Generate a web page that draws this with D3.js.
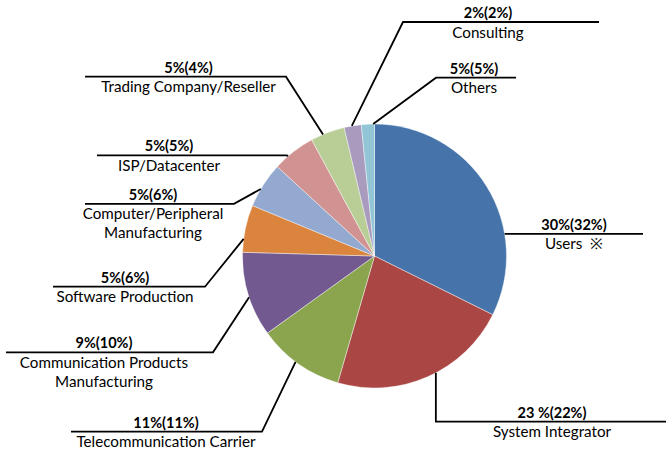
<!DOCTYPE html>
<html>
<head>
<meta charset="utf-8">
<script src="https://cdn.jsdelivr.net/npm/d3@7"></script>
<style>
  body { margin: 0; background: #fff; }
  svg { display: block; }
  text { font-family: Lato, "Open Sans", sans-serif; fill: #000; }
</style>
</head>
<body>
<script>
// slices, clockwise from 12 o'clock
const categories = ["Users  ※", "System Integrator", "Telecommunication Carrier",
  "Communication Products|Manufacturing", "Software Production",
  "Computer/Peripheral|Manufacturing", "ISP/Datacenter",
  "Trading Company/Reseller", "Consulting", "Others"];
const shares = [32.4, 22.2, 10.6, 10.4, 5.8, 5.6, 5.3, 4.2, 2.1, 1.6];
// printed percentage labels
const pctLabels = ["30%(32%)", "23 %(22%)", "11%(11%)", "9%(10%)", "5%(6%)",
  "5%(6%)", "5%(5%)", "5%(4%)", "2%(2%)", "5%(5%)"];
const colors = ["#4674aa", "#aa4644", "#8ba54f", "#72598f", "#db843d",
  "#93a9d0", "#d19392", "#b9ce97", "#a99bbd", "#92c5d5"];

const width = 669, height = 450;
const cx = 374.5, cy = 256, r = 132;

// leader layout: where on the slice the line starts (0..1 through the slice),
// elbow point, end of the horizontal bar, label centre
const leaders = [
  {t: 0.69, elbow: null,          endX: 643, tx: 574},
  {t: 0.45, elbow: ["v", 421.7],  endX: 666, tx: 552},
  {t: 0.54, elbow: [262, 431.7],  endX: 71,  tx: 166},
  {t: 0.47, elbow: [213, 352.3],  endX: 6,   tx: 104},
  {t: 0.28, elbow: [205, 286.7],  endX: 53,  tx: 125},
  {t: 0.40, elbow: [234, 203.8],  endX: 85,  tx: 153},
  {t: 0.34, elbow: [287, 155.3],  endX: 97,  tx: 169},
  {t: 0.36, elbow: [286, 76.7],   endX: 85,  tx: 188.5},
  {t: 0.45, elbow: [403, 22],     endX: 599, tx: 488},
  {t: 0.90, elbow: [436, 77.7],   endX: 516, tx: 474}
];

const svg = d3.select("body").append("svg")
  .attr("width", width).attr("height", height);

const pie = d3.pie().sort(null).value(d => d);
const arcs = pie(shares);

const arc = d3.arc().innerRadius(0).outerRadius(r);

const g = svg.append("g").attr("transform", `translate(${cx},${cy})`);

g.selectAll("path")
  .data(arcs)
  .join("path")
    .attr("d", arc)
    .attr("fill", (d, i) => colors[i])
    .attr("stroke", "#fff")
    .attr("stroke-width", 0.6)
    .attr("stroke-opacity", 0.7);

// leader lines
const lines = svg.append("g")
  .attr("fill", "none")
  .attr("stroke", "#000")
  .attr("stroke-width", 1.8);

arcs.forEach((a, i) => {
  const L = leaders[i];
  const ang = a.startAngle + L.t * (a.endAngle - a.startAngle);
  const p0 = [cx + r * Math.sin(ang), cy - r * Math.cos(ang)];
  let pts;
  if (!L.elbow) {
    pts = [p0, [L.endX, p0[1]]];
    L.lineY = p0[1];
  } else {
    const ex = L.elbow[0] === "v" ? p0[0] : L.elbow[0];
    const ey = L.elbow[1];
    pts = [p0, [ex, ey], [L.endX, ey]];
    L.lineY = ey;
  }
  lines.append("path").attr("d", d3.line()(pts));
});

// labels
const labels = svg.append("g").attr("text-anchor", "middle");

arcs.forEach((a, i) => {
  const L = leaders[i];
  labels.append("text")
    .attr("x", L.tx)
    .attr("y", L.lineY - 4)
    .attr("font-size", 14.5)
    .attr("font-weight", "bold")
    .text(pctLabels[i]);
  categories[i].split("|").forEach((s, k) => {
    labels.append("text")
      .attr("x", L.tx)
      .attr("y", L.lineY + 15.5 + k * 19)
      .attr("font-size", 15.2)
      .attr("xml:space", "preserve")
      .text(s);
  });
});
</script>
</body>
</html>
